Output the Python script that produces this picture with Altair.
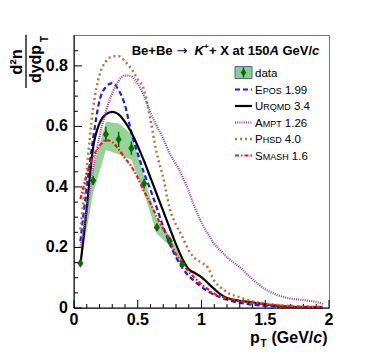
import altair as alt
import pandas as pd

# ---------------- data ----------------
pt_data = [0.05, 0.15, 0.25, 0.35, 0.45, 0.55, 0.65, 0.75, 0.85]
y_data = [0.148, 0.421, 0.574, 0.557, 0.528, 0.411, 0.266, 0.222, 0.145]
stat_err = [0.008, 0.015, 0.025, 0.025, 0.022, 0.016, 0.012, 0.010, 0.008]
sys_lo = [0.140, 0.380, 0.522, 0.508, 0.490, 0.378, 0.245, 0.205, 0.135]
sys_hi = [0.160, 0.460, 0.616, 0.610, 0.575, 0.434, 0.290, 0.240, 0.155]

pt_model = [0.05, 0.10, 0.15, 0.20, 0.25, 0.30, 0.35, 0.40, 0.45, 0.50, 0.55, 0.60,
            0.65, 0.70, 0.75, 0.80, 0.85, 0.90, 0.95, 1.00, 1.05, 1.10, 1.15, 1.20,
            1.30, 1.40, 1.50, 1.60, 1.70, 1.80, 1.90, 1.95]
epos = [0.22, 0.40, 0.56, 0.685, 0.73, 0.743, 0.72, 0.67, 0.58, 0.51, 0.445, 0.39,
        0.33, 0.268, 0.213, 0.168, 0.132, 0.106, 0.087, 0.070, 0.055, 0.044, 0.035, 0.027,
        0.017, 0.011, 0.007, 0.005, 0.003, 0.002, 0.002, 0.002]
urqmd = [0.14, 0.33, 0.53, 0.61, 0.64, 0.648, 0.64, 0.615, 0.58, 0.535, 0.485, 0.43,
         0.375, 0.32, 0.265, 0.21, 0.163, 0.128, 0.115, 0.102, 0.082, 0.063, 0.045, 0.033,
         0.024, 0.019, 0.012, 0.007, 0.004, 0.003, 0.002, 0.002]
ampt = [0.20, 0.32, 0.46, 0.565, 0.65, 0.71, 0.75, 0.768, 0.765, 0.74, 0.70, 0.645,
        0.60, 0.56, 0.51, 0.475, 0.435, 0.385, 0.33, 0.283, 0.245, 0.212, 0.19, 0.168,
        0.135, 0.095, 0.062, 0.042, 0.031, 0.026, 0.020, 0.013]
phsd = [0.26, 0.46, 0.66, 0.77, 0.815, 0.83, 0.832, 0.815, 0.79, 0.755, 0.72, 0.62,
        0.51, 0.43, 0.33, 0.275, 0.235, 0.19, 0.163, 0.15, 0.133, 0.09, 0.068, 0.052,
        0.035, 0.022, 0.015, 0.010, 0.007, 0.005, 0.004, 0.003]
smash = [0.36, 0.44, 0.50, 0.535, 0.555, 0.548, 0.525, 0.495, 0.468, 0.43, 0.385, 0.345,
         0.30, 0.262, 0.225, 0.178, 0.148, 0.12, 0.098, 0.078, 0.062, 0.047, 0.038, 0.032,
         0.024, 0.018, 0.012, 0.008, 0.005, 0.004, 0.003, 0.003]

x_major = [0, 0.5, 1, 1.5, 2]
x_labels = ["0", "0.5", "1", "1.5", "2"]
x_minor = [0.1, 0.2, 0.3, 0.4, 0.6, 0.7, 0.8, 0.9, 1.1, 1.2, 1.3, 1.4, 1.6, 1.7, 1.8, 1.9]
y_major = [0, 0.2, 0.4, 0.6, 0.8]
y_labels = ["0", "0.2", "0.4", "0.6", "0.8"]
y_minor = [0.05, 0.1, 0.15, 0.25, 0.3, 0.35, 0.45, 0.5, 0.55, 0.65, 0.7, 0.75, 0.85]

# ---------------- layout / style ----------------
W, H = 255, 273
FONT = "Liberation Sans"
xs = alt.Scale(domain=[0, 2], nice=False, zero=False)
ys = alt.Scale(domain=[0, 0.902], nice=False, zero=False)

BOLD_W = {"p": .611, "T": .611, "(": .333, ")": .333, "G": .778, "e": .556, "V": .667,
          "/": .278, "c": .556, "B": .722, "+": .584, "K": .722, "X": .667, "a": .556,
          "t": .333, " ": .278, "1": .556, "5": .556, "0": .556, "A": .722}
REG_W = {"E": .667, "U": .722, "A": .667, "P": .667, "S": .667, "O": .778, "R": .722,
         "Q": .778, "M": .833, "D": .722, "T": .611, "H": .722, " ": .278, ".": .278,
         "1": .556, "9": .556, "3": .556, "4": .556, "2": .556, "6": .556, "0": .556}


def wid(s, size, table):
    return sum(table.get(ch, .6) for ch in s) * size


def one():
    return pd.DataFrame({"t": [""]})


def txt(s, x, y, size=11, weight="normal", style="normal", font=FONT, align="left",
        baseline="alphabetic", angle=0, color="black"):
    kw = dict(align=align, baseline=baseline, font=font, fontSize=size,
              fontWeight=weight, fontStyle=style, color=color)
    if angle:
        kw["angle"] = angle
    return alt.Chart(pd.DataFrame({"t": [s]})).mark_text(**kw).encode(
        x=alt.value(x), y=alt.value(y), text="t:N")


layers = []

# systematic band
df_d = pd.DataFrame({"pt": pt_data, "y": y_data, "lo": sys_lo, "hi": sys_hi,
                     "elo": [a - b for a, b in zip(y_data, stat_err)],
                     "ehi": [a + b for a, b in zip(y_data, stat_err)]})
band = alt.Chart(df_d).mark_area(color="#7cc87c", opacity=0.8, interpolate="linear").encode(
    x=alt.X("pt:Q", scale=xs, axis=None),
    y=alt.Y("lo:Q", scale=ys, axis=None),
    y2="hi:Q")
layers.append(band)

# axis lines (left / bottom)
layers.append(alt.Chart(one()).mark_rule(color="black", strokeWidth=1).encode(
    x=alt.value(0), y=alt.value(0), y2=alt.value(H)))
layers.append(alt.Chart(one()).mark_rule(color="black", strokeWidth=1).encode(
    x=alt.value(0), x2=alt.value(W), y=alt.value(H)))


# tick marks pointing inward
def xticks(vals, L):
    return alt.Chart(pd.DataFrame({"v": vals})).mark_rule(color="black", strokeWidth=1).encode(
        x=alt.X("v:Q", scale=xs, axis=None), y=alt.value(H), y2=alt.value(H - L))


def yticks(vals, L):
    return alt.Chart(pd.DataFrame({"v": vals})).mark_rule(color="black", strokeWidth=1).encode(
        y=alt.Y("v:Q", scale=ys, axis=None), x=alt.value(0), x2=alt.value(L))


layers += [xticks(x_major, 8), xticks(x_minor, 4), yticks(y_major, 8), yticks(y_minor, 4)]

# tick labels
layers.append(alt.Chart(pd.DataFrame({"v": x_major, "lab": x_labels})).mark_text(
    font=FONT, fontSize=16, fontWeight="bold", align="center", baseline="alphabetic",
    color="black").encode(x=alt.X("v:Q", scale=xs, axis=None), y=alt.value(H + 17),
                          text="lab:N"))
layers.append(alt.Chart(pd.DataFrame({"v": y_major, "lab": y_labels})).mark_text(
    font=FONT, fontSize=16, fontWeight="bold", align="right", baseline="middle",
    color="black").encode(y=alt.Y("v:Q", scale=ys, axis=None), x=alt.value(-6),
                          text="lab:N"))

# model curves
models = [
    ("EPOS", epos, "#1a1aff", [5, 3], 2.2),
    ("UrQMD", urqmd, "black", None, 2.2),
    ("AMPT", ampt, "#9a3aa8", [1, 1.2], 2.2),
    ("PHSD", phsd, "#b07840", [2, 3], 2.5),
    ("SMASH", smash, "#ff1010", [4, 2, 1.5, 2], 2.2),
]
for name, vals, col, dash, sw in models:
    kw = dict(color=col, strokeWidth=sw, interpolate="monotone")
    if dash:
        kw["strokeDash"] = dash
    layers.append(alt.Chart(pd.DataFrame({"pt": pt_model, "v": vals})).mark_line(**kw).encode(
        x=alt.X("pt:Q", scale=xs, axis=None), y=alt.Y("v:Q", scale=ys, axis=None)))

# data points
DGREEN = "#0a6a0a"
DIAMOND = "M0,-1.5L1,0L0,1.5L-1,0Z"
layers.append(alt.Chart(df_d).mark_rule(color=DGREEN, strokeWidth=1.5).encode(
    x=alt.X("pt:Q", scale=xs, axis=None), y=alt.Y("elo:Q", scale=ys, axis=None), y2="ehi:Q"))
layers.append(alt.Chart(df_d).mark_point(shape=DIAMOND, size=38, filled=True, color=DGREEN,
                                         opacity=1).encode(
    x=alt.X("pt:Q", scale=xs, axis=None), y=alt.Y("y:Q", scale=ys, axis=None)))

# ---------------- legend ----------------
LX0, LX1, TX = 161, 178, 181
rows = [37.5, 54.5, 71, 87.5, 104, 120.5]
layers.append(alt.Chart(one()).mark_rect(fill="#8ccc8c", stroke="#4a6aa8", strokeWidth=1).encode(
    x=alt.value(LX0), x2=alt.value(LX1), y=alt.value(rows[0] - 6), y2=alt.value(rows[0] + 6)))
layers.append(alt.Chart(one()).mark_rule(color=DGREEN, strokeWidth=1.5).encode(
    x=alt.value((LX0 + LX1) / 2), y=alt.value(rows[0] - 5), y2=alt.value(rows[0] + 5)))
layers.append(alt.Chart(one()).mark_point(shape=DIAMOND, size=30, filled=True, color=DGREEN,
                                          opacity=1).encode(
    x=alt.value((LX0 + LX1) / 2), y=alt.value(rows[0])))
layers.append(txt("data", TX, rows[0] + 4, size=11.5))

labels = [("E", "POS", "1.99"), ("U", "RQMD", "3.4"), ("A", "MPT", "1.26"),
          ("P", "HSD", "4.0"), ("S", "MASH", "1.6")]
CAP, SMALL = 11.5, 9
for (name, vals, col, dash, sw), (cap, small, rest), ry in zip(models, labels, rows[1:]):
    kw = dict(color=col, strokeWidth=sw)
    if dash:
        kw["strokeDash"] = dash
    layers.append(alt.Chart(one()).mark_rule(**kw).encode(
        x=alt.value(LX0), x2=alt.value(LX1), y=alt.value(ry)))
    x = TX
    layers.append(txt(cap, x, ry + 4, size=CAP))
    x += wid(cap, CAP, REG_W)
    layers.append(txt(small, x, ry + 4, size=SMALL))
    x += wid(small, SMALL, REG_W) + wid(" ", CAP, REG_W)
    layers.append(txt(rest, x, ry + 4, size=CAP))

# ---------------- title in the frame ----------------
TY = 20
x = 57.7
layers.append(txt("Be+Be", x, TY, size=13, weight="bold"))
x += wid("Be+Be", 13, BOLD_W) + 4
layers.append(txt("\u2192", x, TY, size=13, font="DejaVu Sans"))
x += 10.9 + 7
layers.append(txt("K", x, TY, size=13, weight="bold", style="italic"))
x += wid("K", 13, BOLD_W) + 0.3
layers.append(txt("+", x, TY - 6, size=8, weight="bold"))
x += wid("+", 8, BOLD_W) + 0.3
layers.append(txt("+ X at 150", x, TY, size=13, weight="bold"))
x += wid("+ X at 150", 13, BOLD_W)
layers.append(txt("A", x, TY, size=13, weight="bold", style="italic"))
x += wid("A", 13, BOLD_W) + 3.6
layers.append(txt("GeV/", x, TY, size=13, weight="bold"))
x += wid("GeV/", 13, BOLD_W)
layers.append(txt("c", x, TY, size=13, weight="bold", style="italic"))

# ---------------- axis titles ----------------
XT = 308
x = 176
layers.append(txt("p", x, XT, size=16, weight="bold"))
layers.append(txt("T", x + 10.5, XT + 4, size=10, weight="bold"))
x = 197.5
layers.append(txt("(GeV/", x, XT, size=16, weight="bold"))
x += wid("(GeV/", 16, BOLD_W)
layers.append(txt("c", x, XT, size=16, weight="bold", style="italic"))
x += wid("c", 16, BOLD_W)
layers.append(txt(")", x, XT, size=16, weight="bold"))

layers.append(txt("d\u00b2n", -57, 27, size=16.5, weight="bold", angle=270,
                  align="center", baseline="middle"))
layers.append(alt.Chart(one()).mark_rule(color="black", strokeWidth=1.3).encode(
    x=alt.value(-48), y=alt.value(0), y2=alt.value(53)))
layers.append(txt("dydp", -38, 29, size=16, weight="bold", angle=270,
                  align="center", baseline="middle"))
layers.append(txt("T", -29, 4, size=10, weight="bold", angle=270,
                  align="center", baseline="middle"))

chart = alt.layer(*layers).properties(
    width=W, height=H,
    padding={"left": 66, "top": 27, "right": 37, "bottom": 43},
    autosize=alt.AutoSizeParams(type="none"),
    background="white",
).configure_view(stroke="#777", strokeWidth=1)

chart.save("out.html", embed_options={"renderer": "svg", "actions": False})
